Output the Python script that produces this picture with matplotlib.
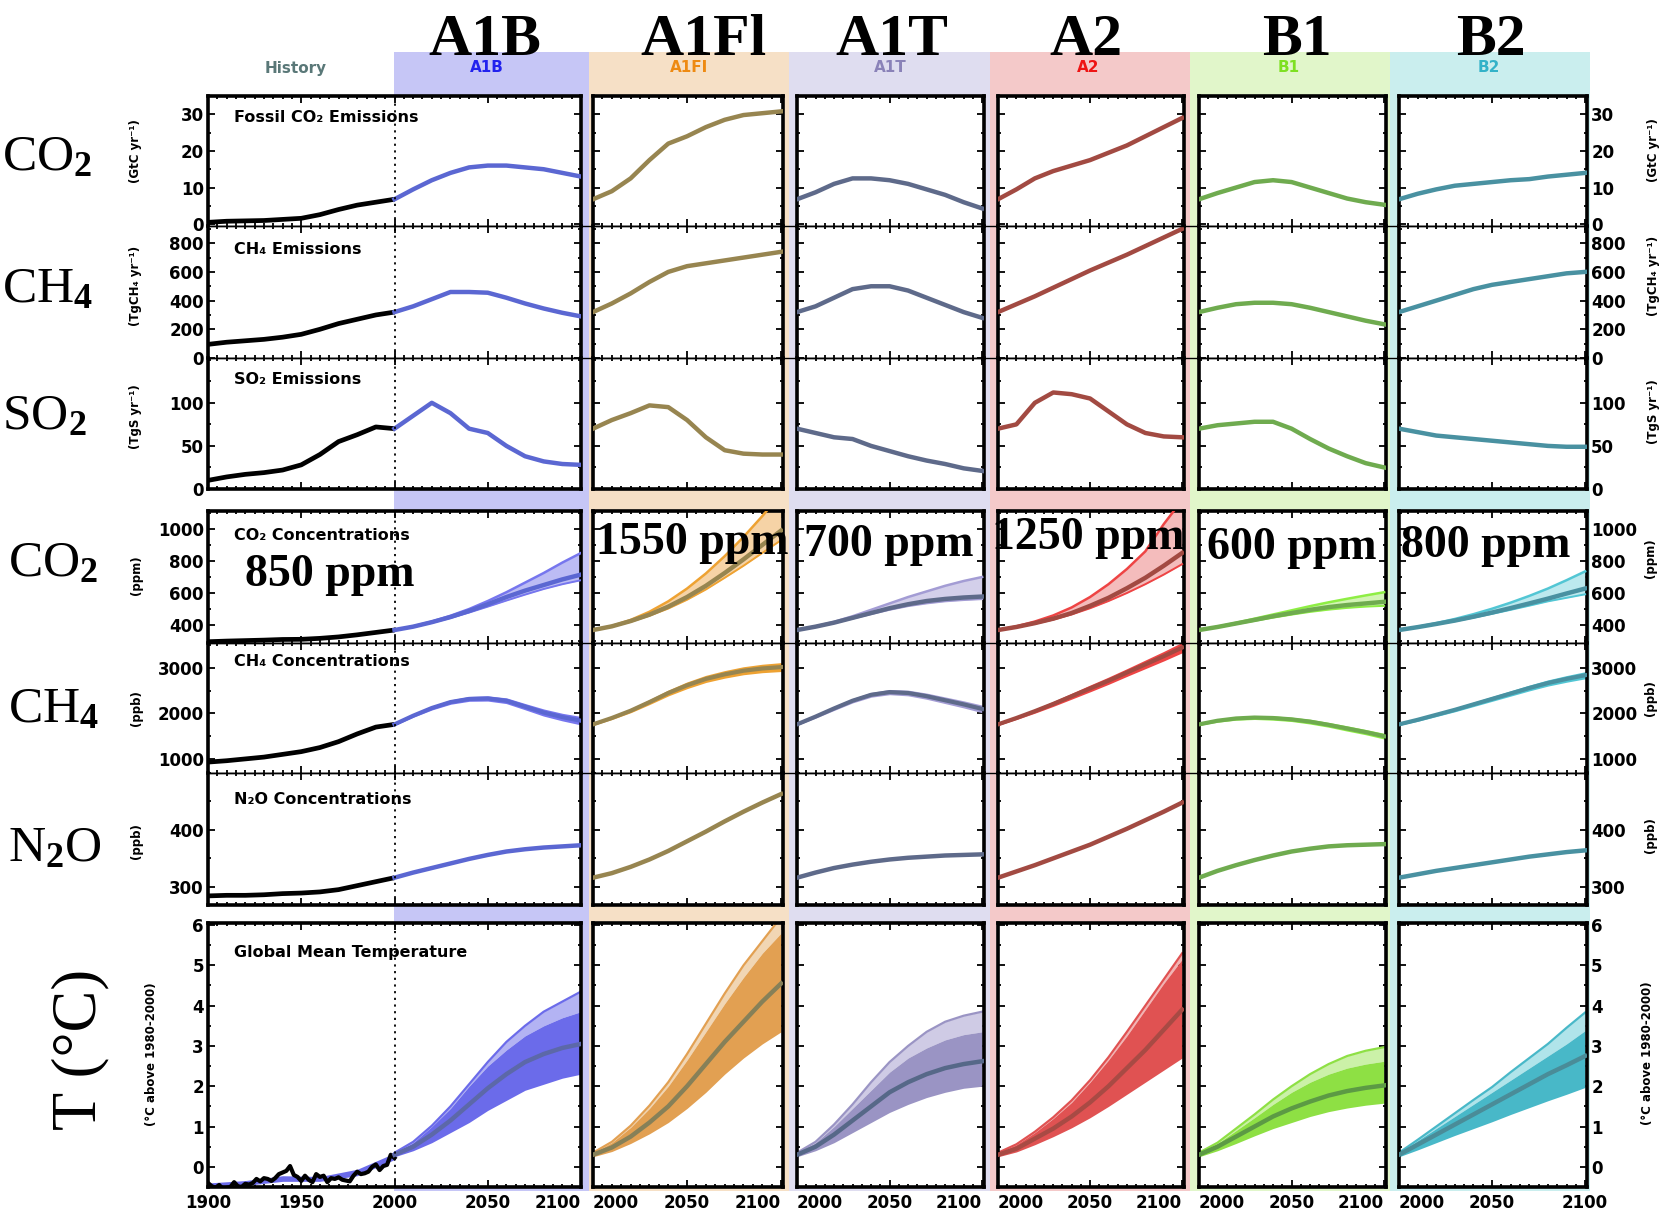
import matplotlib
matplotlib.use('Agg')
import matplotlib.pyplot as plt
from matplotlib.ticker import MultipleLocator, FixedLocator
from matplotlib.patches import Rectangle
from matplotlib.lines import Line2D

# ---------------- DATA ----------------
scen = ['A1B', 'A1FI', 'A1T', 'A2', 'B1', 'B2']
big_names = ['A1B', 'A1Fl', 'A1T', 'A2', 'B1', 'B2']
ppm_labels = ['850 ppm', '1550 ppm', '700 ppm', '1250 ppm', '600 ppm', '800 ppm']

hist_years = [1900, 1910, 1920, 1930, 1940, 1950, 1960, 1970, 1980, 1990, 2000]
hist_co2e = [0.5, 0.8, 0.9, 1.0, 1.3, 1.6, 2.6, 4.0, 5.2, 6.0, 6.8]
hist_ch4e = [95, 110, 120, 130, 145, 165, 200, 240, 270, 300, 320]
hist_so2e = [10, 14, 17, 19, 22, 28, 40, 55, 63, 72, 70]
hist_co2c = [296, 300, 303, 306, 310, 311, 317, 326, 339, 354, 369]
hist_ch4c = [930, 960, 1000, 1040, 1100, 1160, 1250, 1380, 1550, 1700, 1760]
hist_n2oc = [284, 285, 285, 286, 288, 289, 291, 295, 302, 309, 316]

temp_hist_years = list(range(1900, 2001, 2))
temp_hist = [-0.40, -0.48, -0.52, -0.45, -0.55, -0.52, -0.50, -0.38, -0.48, -0.50,
             -0.42, -0.44, -0.40, -0.30, -0.36, -0.28, -0.30, -0.35, -0.28, -0.18,
             -0.14, -0.10, 0.02, -0.20, -0.25, -0.35, -0.22, -0.32, -0.38, -0.18,
             -0.25, -0.22, -0.38, -0.28, -0.30, -0.26, -0.32, -0.34, -0.36, -0.22,
             -0.12, -0.18, -0.16, -0.12, 0.00, 0.06, -0.08, 0.02, 0.05, 0.30, 0.22]
temp_model_years = [1900, 1920, 1940, 1960, 1980, 2000]
temp_model_lo = [-0.50, -0.46, -0.36, -0.36, -0.22, 0.18]
temp_model_hi = [-0.40, -0.34, -0.22, -0.24, -0.06, 0.34]

years = [2000, 2010, 2020, 2030, 2040, 2050, 2060, 2070, 2080, 2090, 2100]

co2_emis = {
    'A1B':  [6.8, 9.5, 12.0, 14.0, 15.5, 16.0, 16.0, 15.5, 15.0, 14.0, 13.0],
    'A1FI': [6.8, 9.0, 12.5, 17.5, 22.0, 24.0, 26.5, 28.5, 29.8, 30.3, 30.8],
    'A1T':  [6.8, 8.7, 11.0, 12.5, 12.5, 12.0, 11.0, 9.5, 8.0, 6.0, 4.3],
    'A2':   [6.8, 9.5, 12.5, 14.5, 16.0, 17.5, 19.5, 21.5, 24.0, 26.5, 29.0],
    'B1':   [6.8, 8.5, 10.0, 11.5, 12.0, 11.5, 10.0, 8.5, 7.0, 6.0, 5.3],
    'B2':   [6.8, 8.3, 9.5, 10.5, 11.0, 11.5, 12.0, 12.3, 13.0, 13.5, 14.0],
}
ch4_emis = {
    'A1B':  [320, 360, 410, 460, 460, 455, 420, 380, 345, 315, 290],
    'A1FI': [320, 380, 450, 530, 600, 640, 660, 680, 700, 720, 740],
    'A1T':  [320, 360, 420, 480, 500, 500, 470, 420, 370, 320, 280],
    'A2':   [320, 375, 430, 490, 550, 610, 665, 720, 780, 840, 900],
    'B1':   [320, 350, 375, 385, 385, 375, 350, 320, 290, 260, 235],
    'B2':   [320, 360, 400, 440, 480, 510, 530, 550, 570, 590, 600],
}
so2_emis = {
    'A1B':  [70, 85, 100, 88, 70, 65, 50, 38, 32, 29, 28],
    'A1FI': [70, 80, 88, 97, 95, 80, 60, 45, 41, 40, 40],
    'A1T':  [70, 65, 60, 58, 50, 44, 38, 33, 29, 24, 21],
    'A2':   [70, 75, 100, 112, 110, 105, 90, 75, 65, 61, 60],
    'B1':   [70, 74, 76, 78, 78, 70, 58, 47, 38, 30, 25],
    'B2':   [70, 66, 62, 60, 58, 56, 54, 52, 50, 49, 49],
}
co2c_mid = {
    'A1B':  [369, 390, 418, 450, 488, 530, 575, 615, 650, 685, 715],
    'A1FI': [369, 392, 425, 465, 515, 575, 645, 725, 810, 900, 990],
    'A1T':  [369, 390, 415, 445, 475, 505, 530, 550, 563, 572, 578],
    'A2':   [369, 388, 412, 440, 475, 520, 570, 630, 695, 770, 850],
    'B1':   [369, 388, 410, 432, 455, 475, 495, 512, 525, 535, 545],
    'B2':   [369, 387, 407, 428, 452, 478, 506, 535, 565, 597, 628],
}
co2c_lo = {
    'A1B':  [369, 388, 414, 444, 478, 515, 553, 590, 625, 655, 680],
    'A1FI': [369, 390, 420, 458, 503, 558, 622, 695, 770, 850, 930],
    'A1T':  [369, 388, 412, 440, 468, 495, 518, 535, 548, 556, 562],
    'A2':   [369, 386, 408, 434, 466, 505, 550, 600, 655, 715, 780],
    'B1':   [369, 386, 406, 426, 446, 465, 482, 496, 507, 515, 520],
    'B2':   [369, 386, 404, 424, 446, 470, 495, 521, 548, 570, 592],
}
co2c_hi = {
    'A1B':  [369, 392, 422, 458, 500, 550, 605, 665, 725, 790, 850],
    'A1FI': [369, 394, 432, 483, 548, 628, 722, 830, 950, 1080, 1220],
    'A1T':  [369, 392, 420, 455, 495, 535, 575, 610, 645, 675, 700],
    'A2':   [369, 392, 422, 460, 510, 575, 655, 750, 860, 1030, 1180],
    'B1':   [369, 390, 414, 440, 466, 492, 518, 542, 564, 585, 605],
    'B2':   [369, 389, 412, 438, 468, 502, 540, 582, 628, 680, 735],
}
ch4c_mid = {
    'A1B':  [1760, 1950, 2120, 2250, 2320, 2330, 2280, 2150, 2020, 1920, 1840],
    'A1FI': [1760, 1900, 2060, 2250, 2450, 2620, 2760, 2860, 2940, 2990, 3020],
    'A1T':  [1760, 1930, 2110, 2280, 2410, 2470, 2450, 2380, 2290, 2200, 2100],
    'A2':   [1760, 1900, 2050, 2210, 2380, 2550, 2720, 2900, 3080, 3260, 3450],
    'B1':   [1760, 1840, 1890, 1910, 1900, 1870, 1820, 1750, 1670, 1590, 1500],
    'B2':   [1760, 1860, 1970, 2080, 2200, 2320, 2440, 2560, 2670, 2760, 2840],
}
ch4c_spread = {
    'A1B':  [0, 10, 20, 25, 30, 35, 40, 45, 55, 60, 70],
    'A1FI': [0, 10, 20, 30, 40, 50, 55, 60, 65, 70, 75],
    'A1T':  [0, 10, 20, 25, 30, 35, 40, 45, 50, 55, 60],
    'A2':   [0, 10, 20, 30, 40, 50, 55, 60, 70, 80, 90],
    'B1':   [0, 10, 15, 20, 25, 25, 30, 30, 35, 35, 40],
    'B2':   [0, 10, 15, 20, 25, 30, 35, 40, 45, 50, 55],
}
n2oc_mid = {
    'A1B':  [316, 325, 333, 341, 349, 356, 362, 366, 369, 371, 373],
    'A1FI': [316, 324, 335, 348, 363, 380, 397, 415, 432, 448, 463],
    'A1T':  [316, 325, 333, 339, 344, 348, 351, 353, 355, 356, 357],
    'A2':   [316, 327, 338, 350, 362, 374, 388, 402, 417, 432, 448],
    'B1':   [316, 328, 338, 347, 355, 362, 367, 371, 373, 374, 375],
    'B2':   [316, 322, 328, 333, 338, 343, 348, 353, 357, 361, 364],
}
temp_mid = {
    'A1B':  [0.30, 0.50, 0.80, 1.15, 1.55, 1.95, 2.30, 2.60, 2.80, 2.95, 3.05],
    'A1FI': [0.30, 0.48, 0.75, 1.10, 1.50, 2.00, 2.55, 3.10, 3.60, 4.10, 4.55],
    'A1T':  [0.30, 0.50, 0.80, 1.15, 1.50, 1.85, 2.10, 2.30, 2.45, 2.55, 2.62],
    'A2':   [0.30, 0.45, 0.70, 0.95, 1.25, 1.60, 2.00, 2.45, 2.90, 3.40, 3.90],
    'B1':   [0.30, 0.50, 0.75, 1.00, 1.25, 1.45, 1.62, 1.77, 1.88, 1.96, 2.02],
    'B2':   [0.30, 0.55, 0.80, 1.05, 1.30, 1.55, 1.80, 2.05, 2.30, 2.52, 2.75],
}
temp_lo = {
    'A1B':  [0.25, 0.40, 0.60, 0.85, 1.10, 1.40, 1.65, 1.90, 2.05, 2.20, 2.30],
    'A1FI': [0.25, 0.38, 0.58, 0.82, 1.10, 1.45, 1.85, 2.30, 2.70, 3.05, 3.35],
    'A1T':  [0.25, 0.40, 0.60, 0.85, 1.10, 1.35, 1.55, 1.72, 1.85, 1.95, 2.00],
    'A2':   [0.25, 0.37, 0.55, 0.75, 0.97, 1.22, 1.50, 1.80, 2.10, 2.40, 2.70],
    'B1':   [0.25, 0.40, 0.58, 0.77, 0.95, 1.10, 1.25, 1.37, 1.46, 1.53, 1.58],
    'B2':   [0.25, 0.42, 0.60, 0.78, 0.95, 1.12, 1.30, 1.47, 1.64, 1.80, 1.97],
}
temp_hi = {
    'A1B':  [0.35, 0.60, 1.00, 1.45, 2.00, 2.50, 2.90, 3.25, 3.50, 3.70, 3.85],
    'A1FI': [0.35, 0.60, 0.98, 1.45, 2.00, 2.65, 3.35, 4.05, 4.70, 5.30, 5.80],
    'A1T':  [0.35, 0.60, 1.00, 1.45, 1.90, 2.35, 2.70, 2.95, 3.15, 3.28, 3.35],
    'A2':   [0.35, 0.55, 0.85, 1.20, 1.60, 2.10, 2.65, 3.25, 3.90, 4.55, 5.15],
    'B1':   [0.35, 0.58, 0.90, 1.22, 1.55, 1.85, 2.10, 2.30, 2.45, 2.55, 2.62],
    'B2':   [0.35, 0.65, 0.95, 1.25, 1.55, 1.85, 2.15, 2.45, 2.75, 3.05, 3.38],
}
temp_top = {
    'A1B':  [0.35, 0.62, 1.02, 1.50, 2.05, 2.60, 3.10, 3.50, 3.85, 4.10, 4.35],
    'A1FI': [0.35, 0.62, 1.02, 1.52, 2.10, 2.80, 3.55, 4.30, 5.00, 5.60, 6.20],
    'A1T':  [0.35, 0.62, 1.05, 1.55, 2.10, 2.60, 3.00, 3.35, 3.60, 3.75, 3.85],
    'A2':   [0.35, 0.56, 0.87, 1.23, 1.65, 2.15, 2.72, 3.35, 4.00, 4.65, 5.30],
    'B1':   [0.35, 0.60, 0.95, 1.30, 1.67, 2.00, 2.30, 2.55, 2.75, 2.88, 2.97],
    'B2':   [0.35, 0.67, 1.00, 1.33, 1.66, 1.98, 2.35, 2.70, 3.05, 3.45, 3.83],
}

# ---------------- STYLE ----------------
line_c = {'A1B': '#5b67d2', 'A1FI': '#978550', 'A1T': '#5e6a8a', 'A2': '#a24a42', 'B1': '#6fab4f', 'B2': '#4991a1'}
tmid_c = {'A1B': '#5c68a8', 'A1FI': '#868058', 'A1T': '#566888', 'A2': '#a84a44', 'B1': '#5c9a44', 'B2': '#4a8c98'}
tfill = {'A1B': '#6b6bea', 'A1FI': '#e2a052', 'A1T': '#9a94c4', 'A2': '#e05252', 'B1': '#8ee044', 'B2': '#48b8c8'}
tlight = {'A1B': '#b3b3f3', 'A1FI': '#f1d6b4', 'A1T': '#cfcbe5', 'A2': '#f2b4b4', 'B1': '#cbf1a8', 'B2': '#b0e4ea'}
cedge = {'A1B': '#7676ee', 'A1FI': '#eea232', 'A1T': '#a39cd4', 'A2': '#ee4444', 'B1': '#8eee44', 'B2': '#52c6d4'}
cfill = {'A1B': '#bcbcf4', 'A1FI': '#f6d3a6', 'A1T': '#d3cfea', 'A2': '#f4bcbc', 'B1': '#d2f4b4', 'B2': '#bce9ee'}
bg = {'A1B': '#c6c6f6', 'A1FI': '#f6e0c6', 'A1T': '#dfddf0', 'A2': '#f4c9c9', 'B1': '#e1f6ca', 'B2': '#caeeee'}
hdr = {'A1B': '#2222ee', 'A1FI': '#ee8a12', 'A1T': '#8a82b8', 'A2': '#ee1414', 'B1': '#7ee022', 'B2': '#33b2c8'}

W, H = 1670, 1216
plt.rcParams['font.family'] = ['DejaVu Sans']
plt.rcParams['font.weight'] = 'bold'
plt.rcParams['mathtext.fontset'] = 'custom'
plt.rcParams['mathtext.rm'] = 'Liberation Serif'
plt.rcParams['mathtext.it'] = 'Liberation Serif:italic'
plt.rcParams['mathtext.bf'] = 'Liberation Serif:bold'

fig = plt.figure(figsize=(W / 100, H / 100), dpi=100)
fig.patch.set_facecolor('white')


def fx(x):
    return x / W


def fy(y):
    return 1 - y / H


cols_x = [(208, 581), (593, 783), (797, 984), (998, 1184), (1199, 1386), (1399, 1587)]
band_x = [(394, 589), (589, 789), (789, 990), (990, 1190), (1190, 1390), (1390, 1590)]
band_top, band_bot = 52, 1191

rows = [('co2e', 96, 226), ('ch4e', 226, 358), ('so2e', 358, 489),
        ('co2c', 511, 643), ('ch4c', 643, 773), ('n2oc', 773, 905),
        ('temp', 923, 1187)]
ylims = {'co2e': (-0.5, 35), 'ch4e': (0, 920), 'so2e': (0, 152),
         'co2c': (288, 1112), 'ch4c': (690, 3550), 'n2oc': (268, 500), 'temp': (-0.5, 6.05)}
yticks = {'co2e': [0, 10, 20, 30], 'ch4e': [0, 200, 400, 600, 800], 'so2e': [0, 50, 100],
          'co2c': [400, 600, 800, 1000], 'ch4c': [1000, 2000, 3000], 'n2oc': [300, 400],
          'temp': [0, 1, 2, 3, 4, 5, 6]}
yminor = {'co2e': 5, 'ch4e': 100, 'so2e': 25, 'co2c': 100, 'ch4c': 500, 'n2oc': 50, 'temp': 0.5}
thin_top = {'ch4e', 'so2e', 'ch4c', 'n2oc'}
thin_bot = {'co2e', 'ch4e', 'co2c', 'ch4c'}

# background bands
for s, (x0, x1) in zip(scen, band_x):
    fig.patches.append(Rectangle((fx(x0), fy(band_bot)), (x1 - x0) / W, (band_bot - band_top) / H,
                                 transform=fig.transFigure, facecolor=bg[s], edgecolor='none', zorder=-5))

for ci, (x0, x1) in enumerate(cols_x):
    s = scen[ci]
    for rname, y0, y1 in rows:
        ax = fig.add_axes([fx(x0), fy(y1), (x1 - x0) / W, (y1 - y0) / H])
        ax.set_facecolor('white')
        ax.set_ylim(*ylims[rname])
        if ci == 0:
            ax.set_xlim(1900, 2100)
            xt = [1900, 1950, 2000, 2050, 2100]
            ax.axvline(2000, color='k', lw=1.3, ls=(0, (1.2, 2.5)), zorder=4)
        else:
            ax.set_xlim(2000, 2101)
            xt = [2000, 2050, 2100]
        ax.set_xticks(xt, [str(v) for v in xt])
        ax.xaxis.set_minor_locator(MultipleLocator(5))
        ax.yaxis.set_major_locator(FixedLocator(yticks[rname]))
        ax.yaxis.set_minor_locator(MultipleLocator(yminor[rname]))
        ax.tick_params(which='both', direction='in', top=True, right=True, width=1.3,
                       labelleft=(ci == 0), labelright=(ci == 5),
                       labelbottom=(rname == 'temp'), labelsize=12)
        ax.tick_params(which='major', length=5)
        ax.tick_params(which='minor', length=2.5)
        ax.tick_params(axis='y', pad=3)
        ax.tick_params(axis='x', pad=5)
        if rname == 'temp':
            for lbl in ax.get_xticklabels():
                t = lbl.get_text()
                if t == '2000' and ci > 0:
                    lbl.set_ha('left')
                elif t == '2100' and ci < 5:
                    lbl.set_ha('right')
        for sp in ax.spines.values():
            sp.set_linewidth(2.6)
        if rname in thin_top:
            ax.spines['top'].set_linewidth(1.0)
        if rname in thin_bot:
            ax.spines['bottom'].set_linewidth(1.0)

        # history
        if ci == 0:
            hist = {'co2e': hist_co2e, 'ch4e': hist_ch4e, 'so2e': hist_so2e,
                    'co2c': hist_co2c, 'ch4c': hist_ch4c, 'n2oc': hist_n2oc}
            if rname == 'temp':
                ax.fill_between(temp_model_years, temp_model_lo, temp_model_hi,
                                color=tfill['A1B'], lw=0, zorder=2)
                ax.plot(temp_hist_years, temp_hist, color='k', lw=3.0, zorder=3)
            else:
                ax.plot(hist_years, hist[rname], color='k', lw=3.4, zorder=3,
                        solid_capstyle='butt')

        # scenario
        if rname == 'co2e':
            ax.plot(years, co2_emis[s], color=line_c[s], lw=3.2, zorder=3)
        elif rname == 'ch4e':
            ax.plot(years, ch4_emis[s], color=line_c[s], lw=3.2, zorder=3)
        elif rname == 'so2e':
            ax.plot(years, so2_emis[s], color=line_c[s], lw=3.2, zorder=3)
        elif rname == 'co2c':
            ax.fill_between(years, co2c_lo[s], co2c_hi[s], color=cfill[s], lw=0, zorder=2)
            ax.plot(years, co2c_hi[s], color=cedge[s], lw=1.8, zorder=3)
            ax.plot(years, co2c_lo[s], color=cedge[s], lw=1.4, zorder=3)
            ax.plot(years, co2c_mid[s], color=line_c[s], lw=3.2, zorder=4)
        elif rname == 'ch4c':
            lo = [m - d for m, d in zip(ch4c_mid[s], ch4c_spread[s])]
            hi = [m + d for m, d in zip(ch4c_mid[s], ch4c_spread[s])]
            ax.fill_between(years, lo, hi, color=cedge[s], lw=1.5, zorder=2)
            ax.plot(years, ch4c_mid[s], color=line_c[s], lw=3.0, zorder=3)
        elif rname == 'n2oc':
            ax.plot(years, n2oc_mid[s], color=line_c[s], lw=3.2, zorder=3)
        elif rname == 'temp':
            ax.fill_between(years, temp_hi[s], temp_top[s], color=tlight[s], lw=0, zorder=2)
            ax.plot(years, temp_top[s], color=tfill[s], lw=1.6, zorder=2)
            ax.fill_between(years, temp_lo[s], temp_hi[s], color=tfill[s], lw=0, zorder=2)
            ax.plot(years, temp_mid[s], color=tmid_c[s], lw=3.2, zorder=3)

# horizontal boundary lines crossing the column gaps
for yy in [226, 358, 643, 773]:
    fig.add_artist(Line2D([fx(208), fx(1587)], [fy(yy), fy(yy)], transform=fig.transFigure,
                          color='k', lw=1.0, zorder=10))

# ---------------- TEXT ----------------
serif = 'Liberation Serif'
big_x = [485, 703, 892, 1086, 1297, 1491]
for name, xc in zip(big_names, big_x):
    fig.text(fx(xc), fy(55), name, family=serif, fontweight='bold', fontsize=43,
             ha='center', va='baseline')

fig.text(fx(296), fy(68), 'History', color='#5a7878', fontsize=11, fontweight='bold',
         ha='center', va='center')
small_x = [487, 689, 890, 1088, 1289, 1489]
for s, xc in zip(scen, small_x):
    fig.text(fx(xc), fy(68), s, color=hdr[s], fontsize=11, fontweight='bold',
             ha='center', va='center')

left_labels = [('CO$_2$', 2, 158), ('CH$_4$', 2, 290), ('SO$_2$', 2, 417),
               ('CO$_2$', 8, 564), ('CH$_4$', 8, 710), ('N$_2$O', 8, 849)]
for txt, xx, yy in left_labels:
    fig.text(fx(xx), fy(yy), txt, family=serif, fontweight='normal', fontsize=37,
             ha='left', va='center')
fig.text(fx(80), fy(1049), 'T (°C)', family=serif, fontweight='normal', fontsize=45,
         rotation=90, ha='center', va='center')

ppm_pos = [(330, 575), (692, 543), (889, 545), (1088, 538), (1292, 548), (1486, 546)]
for txt, (xx, yy) in zip(ppm_labels, ppm_pos):
    fig.text(fx(xx), fy(yy), txt, family=serif, fontweight='bold', fontsize=33,
             ha='center', va='center', zorder=20)

titles = [('Fossil CO₂ Emissions', 117), ('CH₄ Emissions', 249), ('SO₂ Emissions', 380),
          ('CO₂ Concentrations', 535), ('CH₄ Concentrations', 662),
          ('N₂O Concentrations', 799), ('Global Mean Temperature', 953)]
for txt, yy in titles:
    fig.text(fx(234), fy(yy), txt, fontsize=11.5, fontweight='bold', ha='left', va='center', zorder=20)

units_left = [('(GtC yr⁻¹)', 136, 151), ('(TgCH₄ yr⁻¹)', 136, 286), ('(TgS yr⁻¹)', 136, 417),
              ('(ppm)', 136, 575), ('(ppb)', 136, 708), ('(ppb)', 136, 841),
              ('(°C above 1980-2000)', 152, 1054)]
for txt, xx, yy in units_left:
    fig.text(fx(xx), fy(yy), txt, fontsize=8.5, fontweight='bold', rotation=90,
             ha='center', va='center')
units_right = [('(GtC yr⁻¹)', 1653, 150), ('(TgCH₄ yr⁻¹)', 1653, 276), ('(TgS yr⁻¹)', 1653, 412),
               ('(ppm)', 1650, 558), ('(ppb)', 1650, 698), ('(ppb)', 1650, 835),
               ('(°C above 1980-2000)', 1647, 1053)]
for txt, xx, yy in units_right:
    fig.text(fx(xx), fy(yy), txt, fontsize=8.5, fontweight='bold', rotation=90,
             ha='center', va='center')

fig.savefig('out.png', dpi=100, facecolor='white')
